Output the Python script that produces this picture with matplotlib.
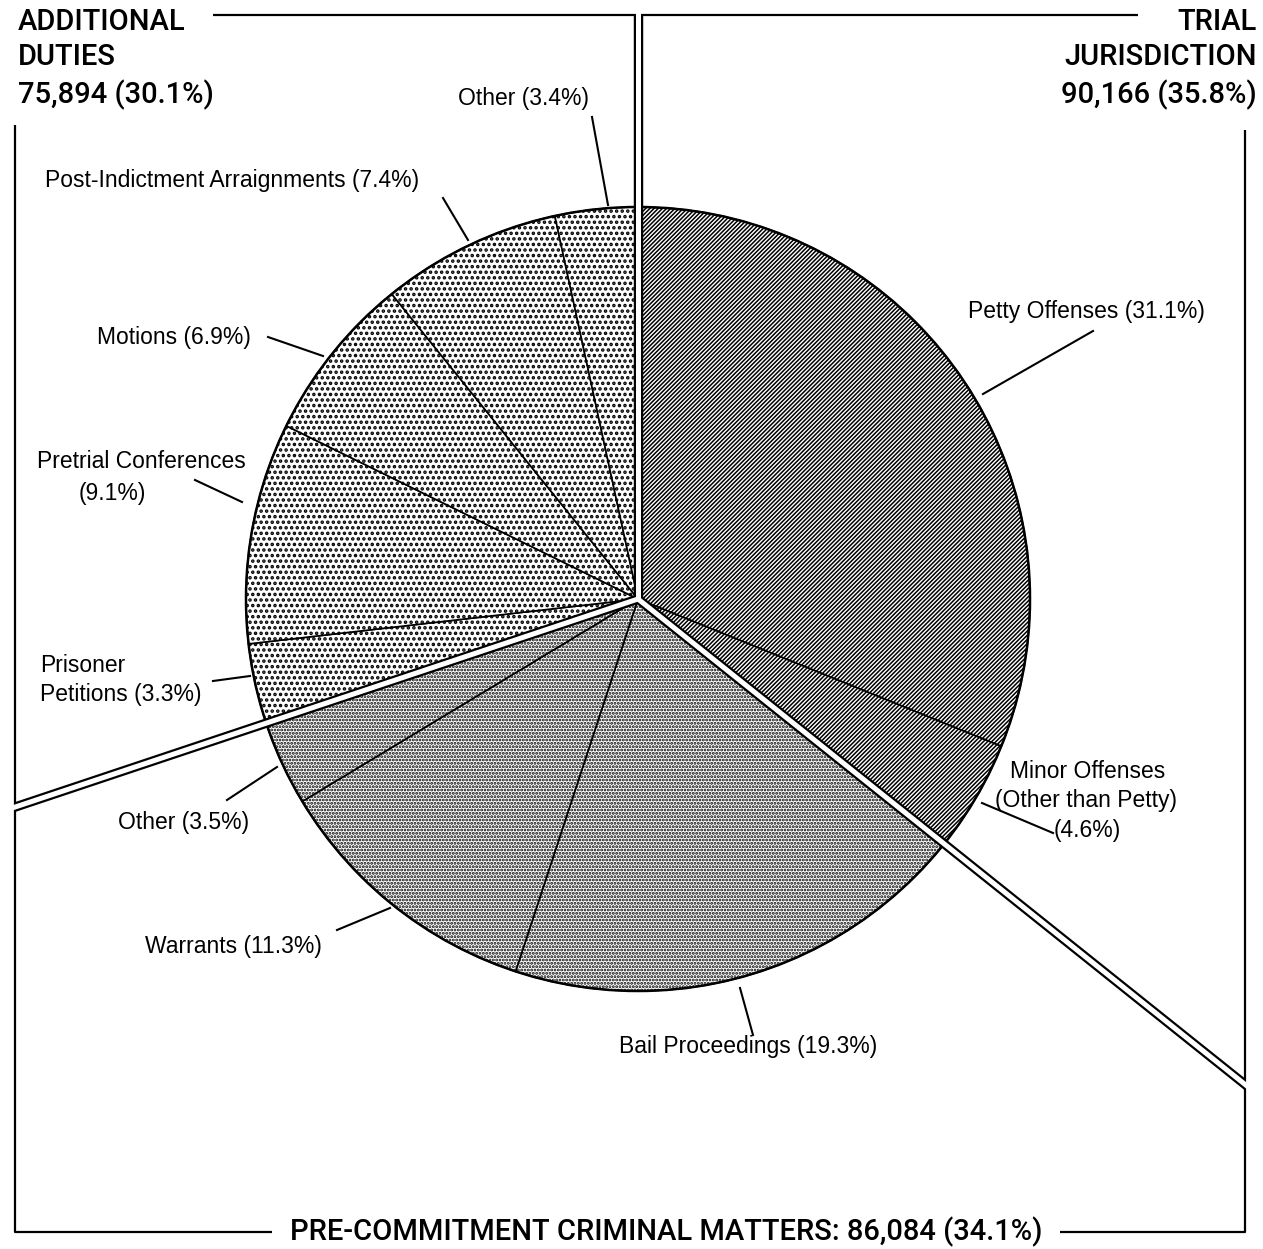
import numpy as np
import matplotlib
matplotlib.use("Agg")
import matplotlib.pyplot as plt
from matplotlib.patches import Rectangle, Circle

# ---- data ----
slice_names = [
    "Petty Offenses",
    "Minor Offenses\n(Other than Petty)\n",
    "Bail Proceedings",
    "Warrants",
    "Other",
    "Prisoner\nPetitions",
    "Pretrial Conferences\n",
    "Motions",
    "Post-Indictment Arraignments",
    "Other",
]
slice_pcts = [31.1, 4.6, 19.3, 11.3, 3.5, 3.3, 9.1, 6.9, 7.4, 3.4]
group_slices = [2, 3, 5]
group_titles = ["TRIAL\nJURISDICTION", "PRE-COMMITMENT CRIMINAL MATTERS:", "ADDITIONAL\nDUTIES"]
group_counts = [90166, 86084, 75894]
group_pcts = [35.8, 34.1, 30.1]

# ---- layout (pixel space, y measured downward) ----
W, H = 1263, 1249
CX, CY, R = 638, 599, 392
FL, FR, FT, FB = 15, 1245, 15, 1232


def Y(py):
    return H - py


LABEL_FONT = "Liberation Sans"
HEAD_FONT = "Roboto"

fig = plt.figure(figsize=(W / 100, H / 100), dpi=100)
ax = fig.add_axes([0, 0, 1, 1])

group_hatch = ["////////", ".....", "..."]
group_hatch_lw = [1.1, 1.4, 1.7]
hatches, hatch_lws = [], []
for g, n in enumerate(group_slices):
    hatches += [group_hatch[g]] * n
    hatch_lws += [group_hatch_lw[g]] * n

with plt.rc_context({"hatch.color": "black"}):
    wedges, _ = ax.pie(
        slice_pcts,
        startangle=90,
        counterclock=False,
        center=(CX, Y(CY)),
        radius=R,
        colors=["white"] * len(slice_pcts),
        hatch=hatches,
        wedgeprops=dict(edgecolor="black", linewidth=1.2),
    )
for w, lw in zip(wedges, hatch_lws):
    if hasattr(w, "set_hatch_linewidth"):
        w.set_hatch_linewidth(lw)

ax.add_patch(Circle((CX, Y(CY)), R, fill=False, edgecolor="black", linewidth=1.8, zorder=3))

ax.set_xlim(0, W)
ax.set_ylim(0, H)
ax.set_aspect("auto")
ax.axis("off")

# ---- frame around the three groups ----
frame_kw = dict(color="black", linewidth=1.6, solid_capstyle="butt", zorder=4)
ax.plot([213, CX], [Y(FT), Y(FT)], **frame_kw)
ax.plot([CX, 1138], [Y(FT), Y(FT)], **frame_kw)
ax.plot([FR, FR, 1060], [Y(130), Y(FB), Y(FB)], **frame_kw)
ax.plot([272, FL, FL], [Y(FB), Y(FB), Y(125)], **frame_kw)

# ---- double rules separating groups ----
total = sum(slice_pcts)
cum = np.cumsum(slice_pcts) / total
bounds = [0.0] + [cum[sum(group_slices[:k + 1]) - 1] for k in range(len(group_slices) - 1)]

clip_black = Rectangle((FL, Y(FB)), FR - FL, FB - FT, transform=ax.transData)
clip_white = Rectangle((FL - 3, Y(FB) - 3), FR - FL + 6, FB - FT + 6, transform=ax.transData)
for b in bounds:
    th = np.deg2rad(90 - 360 * b)
    dx, dy = np.cos(th), -np.sin(th)
    ts = []
    if dx > 1e-9:
        ts.append((FR - CX) / dx)
    if dx < -1e-9:
        ts.append((FL - CX) / dx)
    if dy > 1e-9:
        ts.append((FB - CY) / dy)
    if dy < -1e-9:
        ts.append((FT - CY) / dy)
    t = min(ts) + 12
    ex, ey = CX + dx * t, CY + dy * t
    lb, = ax.plot([CX, ex], [Y(CY), Y(ey)], color="black", linewidth=6.8,
                  solid_capstyle="butt", zorder=5)
    lb.set_clip_path(clip_black)
    lw_, = ax.plot([CX, ex], [Y(CY), Y(ey)], color="white", linewidth=3.6,
                   solid_capstyle="butt", zorder=6)
    lw_.set_clip_path(clip_white)

# ---- slice labels and leader lines ----
label_lines_pos = [
    [(968, 311, "left")],
    [(1088, 771, "center"), (1086, 801, "center"), (1087, 831, "center")],
    [(619, 1047, "left")],
    [(145, 947, "left")],
    [(118, 823, "left")],
    [(40, 665, "left"), (40, 694, "left")],
    [(37, 461, "left"), (79, 493, "left")],
    [(97, 337, "left")],
    [(45, 180, "left")],
    [(458, 98, "left")],
]
leaders = [
    ((1093, 331), (983, 394)),
    ((982, 803), (1053, 833)),
    ((740, 988), (753, 1035)),
    ((337, 930), (390, 908)),
    ((227, 800), (277, 767)),
    ((213, 681), (250, 676)),
    ((195, 480), (242, 502)),
    ((268, 337), (323, 356)),
    ((443, 198), (468, 240)),
    ((592, 117), (608, 205)),
]
for name, pct, pos, (p0, p1) in zip(slice_names, slice_pcts, label_lines_pos, leaders):
    text = name + ("" if name.endswith("\n") else " ") + f"({pct}%)"
    for line, (x, y, ha) in zip(text.split("\n"), pos):
        ax.text(x, Y(y), line, ha=ha, va="center", fontsize=16.5,
                family=LABEL_FONT, color="black", zorder=7)
    ax.plot([p0[0], p1[0]], [Y(p0[1]), Y(p1[1])], color="black", linewidth=1.5, zorder=7)

# ---- group headings ----
head_kw = dict(fontsize=21, family=HEAD_FONT, weight="medium", color="black",
               zorder=7, va="center")
# Trial jurisdiction (top right)
t_lines = group_titles[0].split("\n") + [f"{group_counts[0]:,} ({group_pcts[0]}%)"]
for line, y in zip(t_lines, [22, 57, 95]):
    ax.text(1257, Y(y), line, ha="right", **head_kw)
# Additional duties (top left)
a_lines = group_titles[2].split("\n") + [f"{group_counts[2]:,} ({group_pcts[2]}%)"]
for line, y in zip(a_lines, [22, 57, 95]):
    ax.text(18, Y(y), line, ha="left", **head_kw)
# Pre-commitment (bottom)
ax.text(666, Y(FB), f"{group_titles[1]} {group_counts[1]:,} ({group_pcts[1]}%)",
        ha="center", **head_kw)

fig.savefig("out.png", dpi=100, facecolor="white")
